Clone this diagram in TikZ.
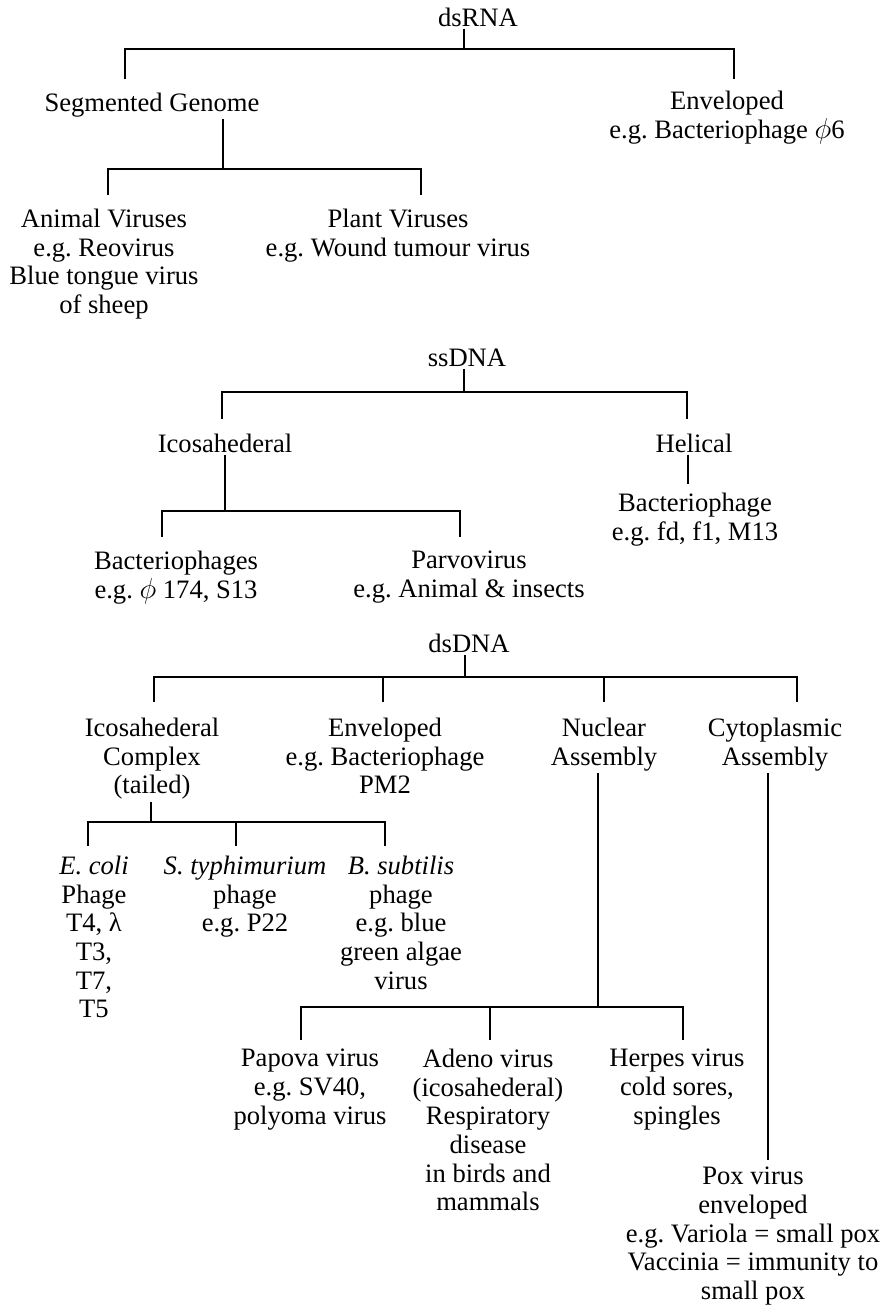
\documentclass[tikz,border=0pt]{standalone}
\usepackage{fontspec}
\setmainfont{Liberation Serif}
\usetikzlibrary{positioning}
\frenchspacing

\begin{document}
\begin{tikzpicture}[x=0.5pt,y=-0.5pt,
  lab/.style={align=center,inner sep=0pt,outer sep=1pt,anchor=north,font=\fontsize{13.3}{14.35}\selectfont},
  link/.style={line width=1.2pt}]
\useasboundingbox (0,0) rectangle (882,1308);
% dsRNA
\node[lab] (dsrna) at (478,6) {dsRNA};
\node[lab] (seg) at (152,91) {Segmented Genome};
\node[lab] (envr) at (727,89) {Enveloped\\e.g. Bacteriophage $\phi$6};
\node[lab] (animal) at (104,207) {Animal Viruses\\e.g. Reovirus\\Blue tongue virus\\of sheep};
\node[lab] (plant) at (398,207) {Plant Viruses\\e.g. Wound tumour virus};
\coordinate (r0) at (464,49); \coordinate (r1) at (125,79); \coordinate (r2) at (734,79);
\draw[link] (dsrna.south -| r0) -- (r0);
\draw[link] (r1) |- (r0) -| (r2);
\coordinate (s0) at (223,169); \coordinate (s1) at (108,195); \coordinate (s2) at (421,195);
\draw[link] (seg.south -| s0) -- (s0);
\draw[link] (s1) |- (s0) -| (s2);
% ssDNA
\node[lab] (ssdna) at (467,347) {ssDNA};
\node[lab] (icos) at (225,432) {Icosahederal};
\node[lab] (helical) at (694,432) {Helical};
\node[lab] (bph) at (695,491) {Bacteriophage\\e.g. fd, f1, M13};
\node[lab] (bphs) at (176,549) {Bacteriophages\\e.g. $\phi$\ 174, S13};
\node[lab] (parvo) at (469,549) {Parvovirus\\e.g. Animal \& insects};
\coordinate (q0) at (464,392); \coordinate (q1) at (222,419); \coordinate (q2) at (687,419);
\draw[link] (ssdna.south -| q0) -- (q0);
\draw[link] (q1) |- (q0) -| (q2);
\coordinate (h1) at (688,484);
\draw[link] (helical.south -| h1) -- (h1);
\coordinate (i0) at (225,511); \coordinate (i1) at (162,537); \coordinate (i2) at (460,537);
\draw[link] (icos.south -| i0) -- (i0);
\draw[link] (i1) |- (i0) -| (i2);
% dsDNA
\node[lab] (dsdna) at (469,632) {dsDNA};
\node[lab] (icc) at (152,716) {Icosahederal\\Complex\\(tailed)};
\node[lab] (envd) at (385,716) {Enveloped\\e.g. Bacteriophage\\PM2};
\node[lab] (nuc) at (604,716) {Nuclear\\Assembly};
\node[lab] (cyto) at (775,716) {Cytoplasmic\\Assembly};
\coordinate (d0) at (465,677); \coordinate (d1) at (154,702); \coordinate (d2) at (383,702);
\coordinate (d3) at (604,702); \coordinate (d4) at (797,702);
\draw[link] (dsdna.south -| d0) -- (d0);
\draw[link] (d1) |- (d0) -| (d4);
\draw[link] (d2 |- d0) -- (d2);
\draw[link] (d3 |- d0) -- (d3);
% tailed phages
\node[lab] (ecoli) at (94,854) {\textit{E. coli}\\Phage\\T4, λ\\T3,\\T7,\\T5};
\node[lab] (styph) at (245,854) {\textit{S. typhimurium}\\phage\\e.g. P22};
\node[lab] (bsub) at (401,854) {\textit{B. subtilis}\\phage\\e.g. blue\\green algae\\virus};
\coordinate (c0) at (151,822); \coordinate (c1) at (88,846); \coordinate (c2) at (236,846);
\coordinate (c3) at (385,846);
\draw[link] (icc.south -| c0) -- (c0);
\draw[link] (c1) |- (c0) -| (c3);
\draw[link] (c2 |- c0) -- (c2);
% nuclear assembly
\node[lab] (papova) at (310,1047) {Papova virus\\e.g. SV40,\\polyoma virus};
\node[lab] (adeno) at (488,1047) {Adeno virus\\(icosahederal)\\Respiratory\\disease\\in birds and\\mammals};
\node[lab] (herpes) at (677,1047) {Herpes virus\\cold sores,\\spingles};
\coordinate (n0) at (598,1007); \coordinate (n1) at (301,1040); \coordinate (n2) at (490,1040);
\coordinate (n3) at (683,1040);
\draw[link] (nuc.south -| n0) -- (n0);
\draw[link] (n1) |- (n0) -| (n3);
\draw[link] (n2 |- n0) -- (n2);
% cytoplasmic assembly
\node[lab] (pox) at (753,1165) {Pox virus\\enveloped\\e.g. Variola = small pox\\Vaccinia = immunity to\\small pox};
\coordinate (p1) at (768,1160);
\draw[link] (cyto.south -| p1) -- (p1);
\end{tikzpicture}
\end{document}
